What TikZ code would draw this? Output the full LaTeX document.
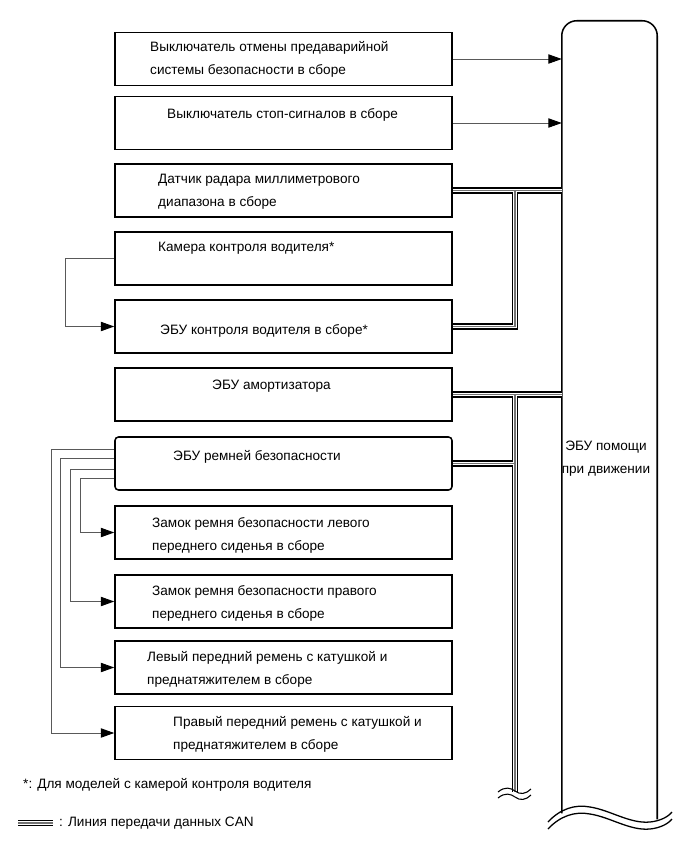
\documentclass[tikz,border=0pt]{standalone}
\usepackage{fontspec}
\setmainfont{Liberation Sans}
\usetikzlibrary{arrows.meta,positioning,calc}
\tikzset{
  part box/.style={draw=black,line width=1.3pt,minimum width=10.11cm,
    minimum height=1.59cm,inner sep=0pt},
  part text/.style={anchor=west,align=left,inner sep=0pt,
    font=\fontsize{11.6}{19.6}\selectfont},
  wire arrow/.style={-{Triangle[length=11.5pt,width=8pt,color=black]},draw=black!65,line width=0.8pt},
  ecu line/.style={draw=black,line width=1.3pt},
  wave line/.style={draw=black,line width=1.1pt}
}
\begin{document}
\begin{tikzpicture}[x=0.03cm,y=-0.03cm]
  \useasboundingbox (0,0) rectangle (691,855);
  % parts
  \node[part box] (b1) at (283.5,59) {};
  \node[part box] (b2) at (283.5,123) {};
  \node[part box] (b3) at (283.5,190.5) {};
  \node[part box] (b4) at (283.5,258.5) {};
  \node[part box] (b5) at (283.5,326.5) {};
  \node[part box] (b6) at (283.5,394.5) {};
  \node[part box,rounded corners=3pt] (b7) at (283.5,463.5) {};
  \node[part box] (b8) at (283.5,532.5) {};
  \node[part box] (b9) at (283.5,601.5) {};
  \node[part box] (b10) at (283.5,667.5) {};
  \node[part box] (b11) at (283.5,733) {};
  \node[part text] (t1) at (150,59.5) {Выключатель отмены предаварийной\\системы безопасности в сборе};
  \node[part text] (t2) at (167,115) {Выключатель стоп-сигналов в сборе};
  \node[part text] (t3) at (158,192) {Датчик радара миллиметрового\\диапазона в сборе};
  \node[part text] (t4) at (158,248) {Камера контроля водителя*};
  \node[part text] (t5) at (160,331) {ЭБУ контроля водителя в сборе*};
  \node[part text] (t6) at (212,386) {ЭБУ амортизатора};
  \node[part text] (t7) at (173,457) {ЭБУ ремней безопасности};
  \node[part text] (t8) at (152,535) {Замок ремня безопасности левого\\переднего сиденья в сборе};
  \node[part text] (t9) at (152,603) {Замок ремня безопасности правого\\переднего сиденья в сборе};
  \node[part text] (t10) at (147,669) {Левый передний ремень с катушкой и\\преднатяжителем в сборе};
  \node[part text] (t11) at (173,734) {Правый передний ремень с катушкой и\\преднатяжителем в сборе};
  % driving support ECU
  \node[inner sep=0pt,minimum width=2.85cm,minimum height=23.76cm] (ecu) at (609.5,417) {};
  \draw[ecu line,rounded corners=0.45cm] (ecu.south west) -- (ecu.north west)
    -- (ecu.north east) -- ($(ecu.south east)+(0,6)$);
  \foreach \o in {0,7}
    \draw[wave line] (548,822+\o) .. controls (560,809+\o) and (575,804+\o) .. (590,807+\o)
      .. controls (610,810+\o) and (630,824+\o) .. (650,822+\o)
      .. controls (660,821+\o) and (668,817+\o) .. (672,812+\o);
  \node[part text,anchor=center,align=center] (ecutext) at (606,459) {ЭБУ помощи\\при движении};
  % signal lines
  \draw[wire arrow] (b1.east) -- (b1.east -| ecu.west);
  \draw[wire arrow] (b2.east) -- (b2.east -| ecu.west);
  \draw[wire arrow] (b4.west) -- ++(-49,0) |- (b5.west);
  \draw[wire arrow] ($(b7.west)+(0,-14.5)$) -- ++(-63,0) |- (b11.west);
  \draw[wire arrow] ($(b7.west)+(0,-5.5)$) -- ++(-54,0) |- (b10.west);
  \draw[wire arrow] ($(b7.west)+(0,5.5)$) -- ++(-44,0) |- (b9.west);
  \draw[wire arrow] ($(b7.west)+(0,14.5)$) -- ++(-34,0) |- (b8.west);
  % CAN bus
  \coordinate (jtop) at (515,190.5);
  \coordinate (jmid) at (515,394.5);
  \coordinate (canend) at (515,792);
  \foreach \w/\c in {5.6pt/black,3.2pt/white,1.3pt/black!55} {
    \draw[line width=\w,draw=\c] (b3.east) -- (b3.east -| ecu.west);
    \draw[line width=\w,draw=\c] (b5.east) -| (jtop);
    \draw[line width=\w,draw=\c] (b6.east) -- (b6.east -| ecu.west);
    \draw[line width=\w,draw=\c] (b7.east) -- (b7.east -| jmid);
    \draw[line width=\w,draw=\c] (jmid) -- (canend);
  }
  \foreach \o in {0,6}
    \draw[wave line,line width=0.9pt] ($(canend)+(-17,\o)$) .. controls ($(canend)+(-10,-6+\o)$)
      and ($(canend)+(-4,-4+\o)$) .. ($(canend)+(0,-1+\o)$)
      .. controls ($(canend)+(5,3+\o)$) and ($(canend)+(11,2+\o)$) .. ($(canend)+(16,-3+\o)$);
  % notes
  \node[part text] (note) at (23,785) {*: Для моделей с камерой контроля водителя};
  \coordinate (lgA) at (18,823);
  \coordinate (lgB) at (53,823);
  \foreach \w/\c in {5.6pt/black,3.2pt/white,1.3pt/black!55}
    \draw[line width=\w,draw=\c] (lgA) -- (lgB);
  \node[part text] (legend) at (59,823) {: Линия передачи данных CAN};
\end{tikzpicture}
\end{document}
